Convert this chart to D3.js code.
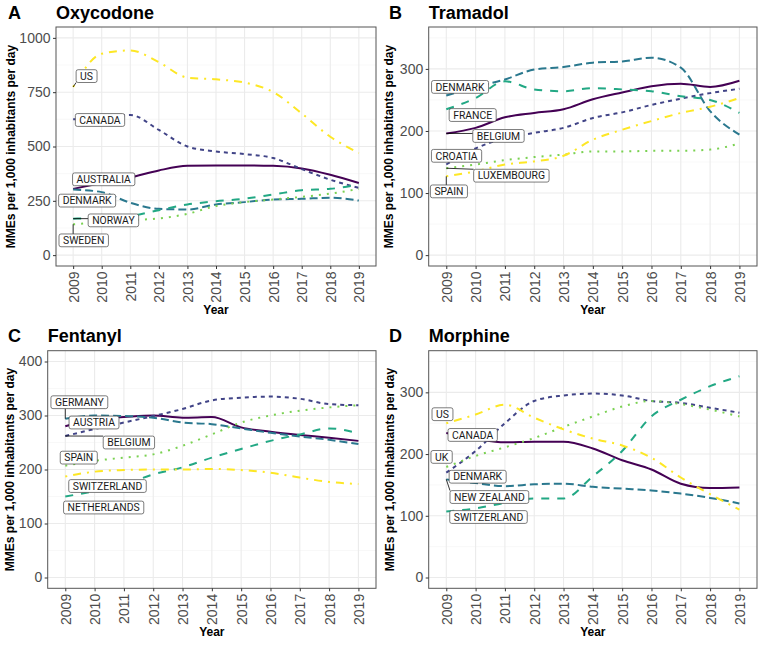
<!DOCTYPE html>
<html>
<head>
<meta charset="utf-8">
<script src="https://cdn.jsdelivr.net/npm/d3@7"></script>
<style>
  html, body { margin: 0; padding: 0; background: #fff; }
  svg { display: block; }
</style>
</head>
<body>
<svg id="chart" width="762" height="645"></svg>
<script>
// ---------------- DATA ----------------
const years = [2009, 2010, 2011, 2012, 2013, 2014, 2015, 2016, 2017, 2018, 2019];

// A: Oxycodone
const oxycodoneCountries = ["AUSTRALIA", "CANADA", "DENMARK", "NORWAY", "SWEDEN", "US"];
const oxycodoneAustralia = [305, 332, 358, 390, 411, 413, 413, 411, 399, 370, 332];
const oxycodoneCanada    = [625, 630, 645, 576, 500, 477, 465, 447, 396, 347, 310];
const oxycodoneDenmark   = [302, 290, 241, 213, 210, 233, 244, 256, 259, 264, 251];
const oxycodoneNorway    = [168, 172, 180, 207, 233, 248, 260, 279, 299, 305, 325];
const oxycodoneSweden    = [142, 152, 161, 169, 190, 226, 244, 256, 268, 283, 305];
const oxycodoneUS        = [774, 927, 942, 888, 817, 809, 794, 751, 652, 545, 470];
const oxycodoneLabelAt   = [[2010.07, 349], [2009.94, 622], [2009.49, 251], [2010.41, 160], [2009.37, 68], [2009.47, 824]];

// B: Tramadol
const tramadolCountries  = ["BELGIUM", "CROATIA", "DENMARK", "FRANCE", "LUXEMBOURG", "SPAIN"];
const tramadolBelgium    = [196, 205, 222, 229, 235, 251, 262, 272, 276, 271, 281];
const tramadolCroatia    = [146, 172, 188, 197, 205, 221, 230, 242, 252, 261, 268];
const tramadolDenmark    = [257, 271, 283, 299, 303, 310, 312, 318, 302, 232, 194];
const tramadolFrance     = [235, 253, 280, 267, 264, 269, 267, 264, 256, 250, 229];
const tramadolLuxembourg = [140, 146, 153, 158, 162, 167, 167, 168, 168, 170, 180];
const tramadolSpain      = [127, 135, 146, 151, 160, 186, 202, 216, 229, 239, 253];
const tramadolLabelAt    = [[2010.78, 192], [2009.35, 160], [2009.47, 271], [2009.90, 225.7], [2011.22, 128], [2009.09, 102.7]];

// C: Fentanyl
const fentanylCountries   = ["AUSTRIA", "BELGIUM", "GERMANY", "NETHERLANDS", "SPAIN", "SWITZERLAND"];
const fentanylAustria     = [280, 293, 297, 300, 296, 297, 278, 270, 264, 259, 253];
const fentanylBelgium     = [262, 275, 287, 299, 312, 328, 333, 335, 331, 321, 319];
const fentanylGermany     = [294, 300, 299, 296, 287, 284, 276, 268, 261, 255, 247];
const fentanylNetherlands = [150, 160, 172, 191, 204, 222, 238, 253, 265, 276, 267];
const fentanylSpain       = [207, 216, 222, 228, 244, 265, 287, 300, 309, 315, 319];
const fentanylSwitzerland = [187, 196, 199, 200, 200, 201, 199, 194, 185, 177, 173];
const fentanylLabelAt     = [[2009.98, 287], [2011.17, 250], [2009.48, 324.6], [2010.31, 129.6], [2009.46, 222], [2010.44, 169.4]];

// D: Morphine
const morphineCountries   = ["CANADA", "DENMARK", "NEW ZEALAND", "SWITZERLAND", "UK", "US"];
const morphineCanada      = [234, 225, 219, 220, 220, 209, 190, 175, 152, 145, 146];
const morphineDenmark     = [170, 205, 250, 286, 295, 298, 295, 286, 283, 275, 267];
const morphineNewZealand  = [159, 153, 148, 151, 152, 147, 144, 141, 136, 129, 120];
const morphineSwitzerland = [107, 112, 121, 128, 128, 164, 205, 261, 288, 310, 326];
const morphineUK          = [179, 197, 211, 226, 244, 261, 277, 286, 281, 272, 261];
const morphineUS          = [250, 264, 280, 259, 240, 225, 214, 194, 162, 135, 110];
const morphineLabelAt     = [[2009.90, 231], [2010.07, 163.3], [2010.47, 130.4], [2010.44, 98], [2008.84, 195.4], [2008.87, 264.6]];

// Axis ticks
const oxycodoneTicks = [0, 250, 500, 750, 1000];
const oxycodoneMinor = [125, 375, 625, 875];
const tramadolTicks  = [0, 100, 200, 300];
const tramadolMinor  = [50, 150, 250, 350];
const fentanylTicks  = [0, 100, 200, 300, 400];
const fentanylMinor  = [50, 150, 250, 350];
const morphineTicks  = [0, 100, 200, 300];
const morphineMinor  = [50, 150, 250, 350];

// ---------------- STYLE / LAYOUT ----------------
const colors = ["#440154", "#414487", "#2A788E", "#22A884", "#7AD151", "#FDE725"];
const dashes = [null, "4,4", "8,4", "8,8", "2,6", "2,6,8,6"];

const panels = [
  { tag: "A", title: "Oxycodone", countries: oxycodoneCountries,
    series: [oxycodoneAustralia, oxycodoneCanada, oxycodoneDenmark, oxycodoneNorway, oxycodoneSweden, oxycodoneUS],
    labelAt: oxycodoneLabelAt, ticks: oxycodoneTicks, minor: oxycodoneMinor, limits: [0, 1000],
    box: { l: 56, r: 376, t: 27, b: 266 }, tagX: 8, titleY: 19, yTitleX: 14.5 },
  { tag: "B", title: "Tramadol", countries: tramadolCountries,
    series: [tramadolBelgium, tramadolCroatia, tramadolDenmark, tramadolFrance, tramadolLuxembourg, tramadolSpain],
    labelAt: tramadolLabelAt, ticks: tramadolTicks, minor: tramadolMinor, limits: [0, 350],
    box: { l: 428.7, r: 757, t: 27, b: 266 }, tagX: 389, titleY: 19, yTitleX: 393 },
  { tag: "C", title: "Fentanyl", countries: fentanylCountries,
    series: [fentanylAustria, fentanylBelgium, fentanylGermany, fentanylNetherlands, fentanylSpain, fentanylSwitzerland],
    labelAt: fentanylLabelAt, ticks: fentanylTicks, minor: fentanylMinor, limits: [0, 400],
    box: { l: 47.7, r: 376, t: 350.7, b: 588.3 }, tagX: 8, titleY: 342, yTitleX: 14 },
  { tag: "D", title: "Morphine", countries: morphineCountries,
    series: [morphineCanada, morphineDenmark, morphineNewZealand, morphineSwitzerland, morphineUK, morphineUS],
    labelAt: morphineLabelAt, ticks: morphineTicks, minor: morphineMinor, limits: [0, 350],
    box: { l: 428.7, r: 757, t: 350.7, b: 588.3 }, tagX: 389, titleY: 342, yTitleX: 393.5 }
];

const svg = d3.select("#chart");
const fontMain = "'Liberation Sans', Arial, Helvetica, sans-serif";
const fontLabel = "Roboto, 'Liberation Sans', Arial, sans-serif";

panels.forEach(p => {
  const B = p.box;
  const span = p.limits[1] - p.limits[0];
  const x = d3.scaleLinear().domain([years[0] - 0.6, years[years.length - 1] + 0.6]).range([B.l, B.r]);
  const y = d3.scaleLinear().domain([p.limits[0] - 0.05 * span, p.limits[1] + 0.05 * span]).range([B.b, B.t]);
  const g = svg.append("g");

  // tag + title
  g.append("text").attr("x", p.tagX).attr("y", p.titleY)
    .attr("font-family", fontMain).attr("font-weight", "bold").attr("font-size", 18).attr("fill", "#000").text(p.tag);
  g.append("text").attr("x", B.l).attr("y", p.titleY)
    .attr("font-family", fontMain).attr("font-weight", "bold").attr("font-size", 18).attr("fill", "#000").text(p.title);

  // panel background
  g.append("rect").attr("x", B.l).attr("y", B.t).attr("width", B.r - B.l).attr("height", B.b - B.t).attr("fill", "#fff");

  // minor grid
  g.selectAll(".minor").data(p.minor).join("line")
    .attr("x1", B.l).attr("x2", B.r).attr("y1", d => y(d)).attr("y2", d => y(d))
    .attr("stroke", "#f3f3f3").attr("stroke-width", 0.6);
  // major grid
  g.selectAll(".majorY").data(p.ticks).join("line")
    .attr("x1", B.l).attr("x2", B.r).attr("y1", d => y(d)).attr("y2", d => y(d))
    .attr("stroke", "#ebebeb").attr("stroke-width", 1.1);
  g.selectAll(".majorX").data(years).join("line")
    .attr("x1", d => x(d)).attr("x2", d => x(d)).attr("y1", B.t).attr("y2", B.b)
    .attr("stroke", "#ebebeb").attr("stroke-width", 1.1);

  // lines
  const line = d3.line().x((d, i) => x(years[i])).y(d => y(d)).curve(d3.curveMonotoneX);
  p.series.forEach((vals, si) => {
    g.append("path").datum(vals).attr("d", line)
      .attr("fill", "none").attr("stroke", colors[si]).attr("stroke-width", 2)
      .attr("stroke-dasharray", dashes[si]).attr("stroke-linecap", "butt");
  });

  // labels
  const lg = g.append("g");
  p.countries.forEach((name, si) => {
    const cx = x(p.labelAt[si][0]), cy = y(p.labelAt[si][1]);
    const t = lg.append("text").attr("x", cx).attr("y", cy + 3.7)
      .attr("text-anchor", "middle").attr("font-family", fontLabel).attr("font-size", 10.4)
      .attr("fill", "#1a1a1a").text(name);
    const w = t.node().getComputedTextLength() + 8;
    const h = 12.8;
    const rx0 = cx - w / 2, ry0 = cy - h / 2;
    // leader segment from first data point
    const px = x(years[0]), py = y(p.series[si][0]);
    const nx = Math.max(rx0, Math.min(px, rx0 + w));
    const ny = Math.max(ry0, Math.min(py, ry0 + h));
    if (Math.hypot(nx - px, ny - py) > 5) {
      lg.insert("line", "text").attr("x1", px).attr("y1", py).attr("x2", nx).attr("y2", ny)
        .attr("stroke", "#000").attr("stroke-width", 0.8);
    }
    lg.insert("rect", () => t.node()).attr("x", rx0).attr("y", ry0).attr("width", w).attr("height", h)
      .attr("rx", 2).attr("fill", "#fff").attr("stroke", "#444").attr("stroke-width", 0.7);
  });

  // panel border
  g.append("rect").attr("x", B.l).attr("y", B.t).attr("width", B.r - B.l).attr("height", B.b - B.t)
    .attr("fill", "none").attr("stroke", "#555").attr("stroke-width", 1);

  // y axis
  const yAxis = g.append("g").attr("transform", `translate(${B.l},0)`)
    .call(d3.axisLeft(y).tickValues(p.ticks).tickSize(3).tickPadding(2.5).tickFormat(d3.format("d")));
  yAxis.select(".domain").remove();
  yAxis.selectAll(".tick line").attr("stroke", "#333");
  yAxis.selectAll("text").attr("font-family", fontMain).attr("font-size", 14).attr("fill", "#4d4d4d");

  // x axis
  const xAxis = g.append("g").attr("transform", `translate(0,${B.b})`)
    .call(d3.axisBottom(x).tickValues(years).tickSize(3).tickFormat(d3.format("d")));
  xAxis.select(".domain").remove();
  xAxis.selectAll(".tick line").attr("stroke", "#333");
  xAxis.selectAll("text").attr("font-family", fontMain).attr("font-size", 14).attr("fill", "#4d4d4d")
    .attr("transform", "rotate(-90)").attr("text-anchor", "end").attr("dy", "0.35em")
    .attr("x", -5.5).attr("y", 0);

  // axis titles
  g.append("text").attr("x", (B.l + B.r) / 2).attr("y", B.b + 48)
    .attr("text-anchor", "middle").attr("font-family", fontMain).attr("font-weight", "bold")
    .attr("font-size", 12).attr("fill", "#000").text("Year");
  g.append("text").attr("transform", `translate(${p.yTitleX},${(B.t + B.b) / 2}) rotate(-90)`)
    .attr("text-anchor", "middle").attr("font-family", fontMain).attr("font-weight", "bold")
    .attr("font-size", 12).attr("fill", "#000").text("MMEs per 1,000 inhabitants per day");
});
</script>
</body>
</html>
